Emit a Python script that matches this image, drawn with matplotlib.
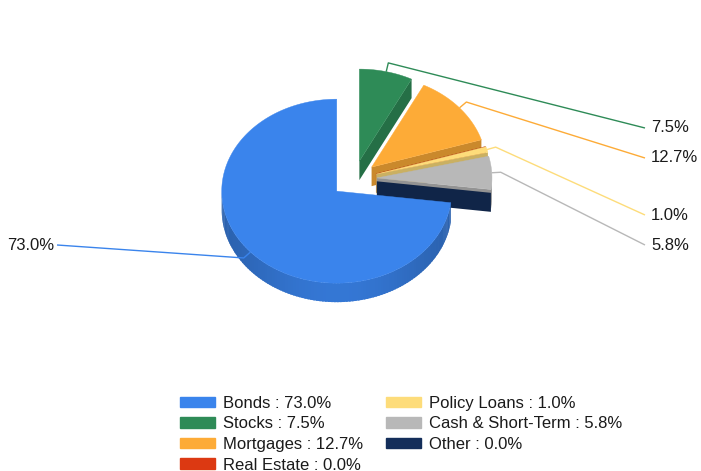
import numpy as np
import matplotlib
matplotlib.use('Agg')
import matplotlib.pyplot as plt
from matplotlib.patches import Polygon, Patch
from matplotlib.colors import to_rgb

# ---- data ----
categories = ['Bonds', 'Stocks', 'Mortgages', 'Real Estate', 'Policy Loans',
              'Cash & Short-Term', 'Other']
values = [73.0, 7.5, 12.7, 0.0, 1.0, 5.8, 0.0]
colors = ['#3a84ec', '#2e8b57', '#fdab37', '#dc3912', '#fddc7a', '#b8b8b8', '#142e5a']

# ---- layout / style ----
plt.rcParams['font.family'] = ['Liberation Sans', 'DejaVu Sans']
FS = 12
CX, CY, RX, RY, DEPTH = 354.0, 179.0, 115.0, 92.0, 19.0
EXPLODE = 0.2
# label placement: (side, y) for labelled slices
label_layout = {0: ('left', 245), 1: ('right', 128), 2: ('right', 158),
                4: ('right', 215), 5: ('right', 245)}
LEFT_X, RIGHT_X = 54, 651

fig = plt.figure(figsize=(7.01, 4.71), dpi=100)
ax = fig.add_axes([0, 0, 1, 1])
ax.set_xlim(0, 701)
ax.set_ylim(471, 0)
ax.axis('off')


def shade(c, f):
    r, g, b = to_rgb(c)
    return (min(1, r * f), min(1, g * f), min(1, b * f))


def P(c, t, z=0.0):
    tr = np.radians(t)
    return (c[0] + RX * np.cos(tr), c[1] - RY * np.sin(tr) + z)


total = sum(values)
start = 90 + 360 * values[0] / total
spans, centers = [], []
cur = start
for v in values:
    hi = cur
    lo = cur - 360 * v / total
    spans.append((lo, hi))
    m = np.radians((lo + hi) / 2)
    centers.append((CX + EXPLODE * RX * np.cos(m), CY - EXPLODE * RY * np.sin(m)))
    cur = lo

side_items = []  # (sort key, polygon pts, color)
for i, ((lo, hi), c) in enumerate(zip(spans, centers)):
    col = colors[i]
    # radial walls
    for t, visible in ((lo, np.cos(np.radians(lo)) > 1e-9),
                       (hi, np.cos(np.radians(hi)) < -1e-9)):
        if visible:
            pts = [(c[0], c[1]), P(c, t), P(c, t, DEPTH), (c[0], c[1] + DEPTH)]
            key = (c[1] + P(c, t)[1]) / 2 + (0.5 if values[i] == 0 else 0)
            side_items.append((key, pts, shade(col, 0.8)))
    # outer front side, drawn as overlapping strips for a soft gradient
    for k in range(-2, 3):
        a = max(lo, 180 + 360 * k)
        b = min(hi, 360 + 360 * k)
        if b - a > 1e-6:
            n = max(2, int((b - a) / 1.5))
            ts = np.linspace(a, b, n + 1)
            for j, (t1, t2) in enumerate(zip(ts[:-1], ts[1:])):
                t2e = min(b, t2 + 0.8)
                tm = np.radians((t1 + t2) / 2)
                f = 0.74 + 0.16 * max(0.0, -np.sin(tm)) ** 3
                pts = [P(c, t1), P(c, t2e), P(c, t2e, DEPTH), P(c, t1, DEPTH)]
                side_items.append((300 + j * 1e-3, pts, shade(col, f)))

for key, pts, fc in sorted(side_items, key=lambda s: s[0]):
    ax.add_patch(Polygon(pts, closed=True, facecolor=fc, edgecolor='none', lw=0,
                         antialiased=True))

# top faces
for i, ((lo, hi), c) in enumerate(zip(spans, centers)):
    if hi - lo <= 0:
        continue
    ts = np.linspace(lo, hi, max(3, int(hi - lo)))
    pts = [(c[0], c[1])] + [P(c, t) for t in ts]
    ax.add_patch(Polygon(pts, closed=True, facecolor=colors[i], edgecolor=colors[i], lw=0.3))

# leader lines and labels
for i, (side, ly) in label_layout.items():
    lo, hi = spans[i]
    c = centers[i]
    m = np.radians((lo + hi) / 2)
    rim = (c[0] + RX * np.cos(m), c[1] - RY * np.sin(m))
    elb = (c[0] + (RX + 9) * np.cos(m), c[1] - (RY + 9) * np.sin(m))
    if side == 'right':
        end = (RIGHT_X - 6, ly)
        ax.text(RIGHT_X, ly, f'{values[i]:.1f}%', ha='left', va='center',
                fontsize=FS, color='#1a1a1a')
    else:
        end = (LEFT_X + 3, ly)
        ax.text(LEFT_X, ly, f'{values[i]:.1f}%', ha='right', va='center',
                fontsize=FS, color='#1a1a1a')
    ax.plot([rim[0], elb[0], end[0]], [rim[1], elb[1], end[1]],
            color=colors[i], lw=1.0, solid_capstyle='butt')

# legend
handles = [Patch(facecolor=col, edgecolor=col, label=f'{cat} : {v:.1f}%')
           for cat, v, col in zip(categories, values, colors)]
leg = ax.legend(handles=handles, ncol=2, loc='upper left',
                bbox_to_anchor=(180 / 701, 1 - 396 / 471), frameon=False,
                fontsize=FS, handlelength=2.1, handleheight=0.6,
                handletextpad=0.48, labelspacing=0.33, columnspacing=1.35,
                borderpad=0, borderaxespad=0)
for t in leg.get_texts():
    t.set_color('#1a1a1a')

fig.savefig('out.png', dpi=100)
